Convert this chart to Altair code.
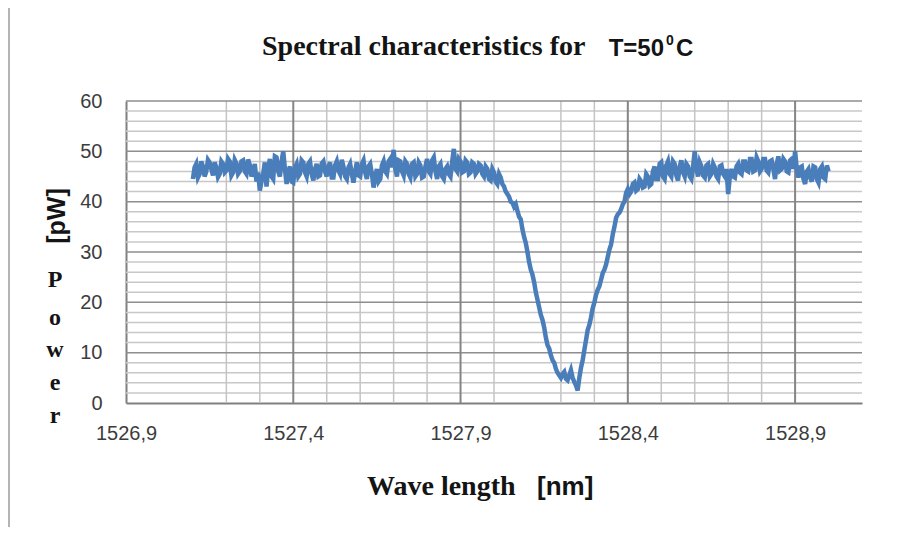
import altair as alt
import pandas as pd

# ---- data ----
WAVE_START = 1527.100  # nm, first sample
WAVE_STEP = 0.005      # nm, sampling step
power_pw = [
    44.5, 46.8, 47.5, 44.8, 45.5, 48.0, 47.0, 45.0, 46.0, 48.3,
    47.8, 46.5, 45.2, 47.8, 46.8, 44.9, 45.5, 48.0, 47.5, 45.8,
    46.2, 48.5, 48.0, 45.2, 45.8, 48.3, 47.6, 45.5, 46.0, 48.0,
    48.2, 46.0, 45.5, 48.4, 47.3, 45.0, 46.0, 47.5, 44.0, 45.8,
    42.2, 44.0, 45.5, 47.8, 43.0, 46.5, 48.5, 45.0, 44.5, 49.0,
    48.8, 46.0, 45.0, 48.0, 50.0, 46.5, 43.5, 46.0, 47.0, 44.0,
    43.8, 46.8, 47.5, 45.0, 45.5, 48.2, 47.8, 45.8, 45.0, 47.5,
    48.0, 45.5, 44.2, 46.5, 47.5, 45.0, 45.2, 47.6, 48.0, 46.0,
    45.0, 47.0, 47.8, 44.8, 44.8, 47.2, 48.0, 46.2, 45.5, 48.3,
    47.0, 45.0, 44.5, 46.8, 47.5, 45.5, 43.8, 46.0, 47.8, 45.2,
    45.0, 47.5, 48.2, 45.8, 44.5, 47.0, 47.5, 45.5, 42.8, 45.0,
    46.5, 44.0, 44.5, 47.2, 48.0, 46.0, 45.5, 48.0, 48.5, 46.8,
    50.3, 46.5, 45.0, 48.2, 48.0, 46.0, 45.2, 48.0, 47.5, 45.5,
    44.8, 47.5, 47.8, 45.0, 45.5, 47.8, 47.2, 44.8, 45.0, 47.0,
    48.5, 46.0, 45.5, 48.2, 48.8, 46.0, 44.5, 47.0, 47.5, 45.0,
    44.5, 46.5, 47.0, 45.5, 45.0, 48.0, 50.5, 46.5, 46.0, 48.5,
    48.0, 45.8, 46.0, 48.2, 47.8, 45.5, 45.8, 47.8, 47.5, 45.5,
    46.0, 47.5, 47.2, 45.5, 45.0, 47.0, 46.5, 44.5, 44.2, 46.5,
    45.8, 44.0, 43.5, 45.5, 44.8, 43.5, 43.0, 42.0, 41.5, 41.0,
    40.0, 39.8, 39.0, 39.5, 38.2, 37.0, 36.5, 34.5, 33.0, 31.8,
    30.0, 28.0, 26.5, 25.5, 24.0, 22.0, 20.5, 19.0, 17.5, 16.5,
    15.0, 13.0, 11.5, 10.8, 9.5, 8.5, 8.0, 6.8, 6.0, 5.5,
    5.0, 5.8, 6.2, 4.8, 4.5, 5.5, 6.5, 5.0, 4.2, 3.5,
    2.5, 5.0, 7.0, 8.5, 10.5, 12.5, 14.5, 15.5, 17.0, 18.8,
    20.0, 21.5, 22.5, 23.2, 24.5, 25.8, 26.5, 27.5, 29.0, 30.5,
    31.5, 33.5, 35.0, 36.8, 37.5, 37.8, 38.5, 39.5, 40.0, 41.8,
    42.5, 41.5, 42.0, 43.5, 43.8, 42.2, 42.5, 44.5, 44.0, 42.8,
    43.0, 45.5, 45.0, 43.2, 43.5, 46.0, 47.0, 44.5, 44.5, 47.5,
    47.8, 45.0, 44.5, 47.2, 48.0, 45.5, 45.0, 48.0, 47.5, 45.2,
    44.2, 47.0, 48.2, 45.8, 45.0, 47.5, 47.0, 45.0, 44.5, 47.0,
    50.0, 46.5, 45.0, 47.8, 47.0, 45.2, 44.8, 47.2, 47.5, 45.0,
    45.5, 47.5, 46.8, 45.0, 44.5, 47.0, 47.2, 45.5, 45.0, 46.5,
    41.5, 45.0, 46.5, 45.0, 44.8, 47.0, 47.5, 45.8, 45.5, 48.0,
    48.0, 46.2, 46.0, 48.5, 48.5, 46.0, 46.2, 48.8, 48.0, 46.0,
    46.5, 48.5, 48.5, 46.2, 45.8, 48.0, 48.2, 46.5, 44.5, 47.5,
    49.0, 46.2, 46.5, 48.5, 48.0, 46.0, 45.8, 48.2, 48.5, 46.5,
    50.0, 46.5, 44.8, 46.8, 47.0, 44.5, 43.5, 46.0, 46.5, 44.8,
    44.0, 47.0, 46.8, 44.5, 43.8, 46.5, 47.0, 44.8, 44.5, 47.2,
    46.0,
]
wavelength_nm = [round(WAVE_START + i * WAVE_STEP, 4) for i in range(len(power_pw))]

x_ticks = [1526.9, 1527.4, 1527.9, 1528.4, 1528.9]
x_minor = [1527.2, 1527.3, 1527.5, 1527.6, 1527.7, 1527.8, 1528.0,
           1528.2, 1528.3, 1528.5, 1528.6, 1528.7, 1528.8]
y_ticks = [0, 10, 20, 30, 40, 50, 60]
y_major_grid = [10, 20, 30, 40, 50, 60]
y_minor_grid = [2, 4, 6, 8, 12, 14, 16, 18, 22, 24, 26, 28, 32, 34, 36, 38,
                42, 44, 46, 48, 52, 54, 56, 58]

title_main = "Spectral characteristics for"
title_temp = "T=50"
title_sup = "0"
title_unit = "C"
x_title_main = "Wave length"
x_title_unit = "[nm]"
y_title_unit = "[pW]"
y_title_letters = ["P", "o", "w", "e", "r"]

# ---- chart ----
df = pd.DataFrame({"w": wavelength_nm, "p": power_pw})
xs = alt.Scale(domain=[1526.9, 1529.1], nice=False, zero=False)
ys = alt.Scale(domain=[0, 60], nice=False)

x_axis = alt.Axis(
    values=x_ticks, title=None, grid=False, ticks=False, tickSize=0,
    labelExpr="replace(format(datum.value, '.1f'), '.', ',')",
    labelPadding=20, labelFlush=False, labelOverlap=False)
y_axis = alt.Axis(
    values=y_ticks, title=None, grid=False, ticks=False, tickSize=0,
    format="d", labelPadding=24)

W, H = 736, 302
OX, OY = 126, 101  # plot origin on the page (for decorations)

def rx(v):
    return v - OX

def ry(v):
    return v - OY

minor_h = alt.Chart(pd.DataFrame({"p": y_minor_grid})).mark_rule(
    color="#c8c8c8", strokeWidth=1.5).encode(y=alt.Y("p:Q", scale=ys, axis=y_axis))
major_h = alt.Chart(pd.DataFrame({"p": y_major_grid})).mark_rule(
    color="#8e8e8e", strokeWidth=1.5).encode(y=alt.Y("p:Q", scale=ys, axis=y_axis))
minor_v = alt.Chart(pd.DataFrame({"w": x_minor})).mark_rule(
    color="#c4c4c4", strokeWidth=1.5).encode(x=alt.X("w:Q", scale=xs, axis=x_axis))
major_v = alt.Chart(pd.DataFrame({"w": x_ticks[1:]})).mark_rule(
    color="#858585", strokeWidth=2).encode(x=alt.X("w:Q", scale=xs, axis=x_axis))

line = alt.Chart(df).mark_line(color="#4A7EBB", strokeWidth=4.5).encode(
    x=alt.X("w:Q", scale=xs, axis=x_axis),
    y=alt.Y("p:Q", scale=ys, axis=y_axis),
)

def txt(s, x, y, font, size, weight="bold", align="left", baseline="alphabetic",
        angle=0, color="#141414"):
    kw = dict(font=font, fontSize=size, fontWeight=weight, align=align,
              baseline=baseline, color=color)
    if angle:
        kw["angle"] = angle
    return alt.Chart(pd.DataFrame({"t": [s]})).mark_text(**kw).encode(
        text="t:N", x=alt.value(x), y=alt.value(y))

SERIF = "Liberation Serif"
SANS = "Liberation Sans"

texts = [
    txt(title_main, rx(262), ry(55), SERIF, 28),
    txt(title_temp, rx(664), ry(56), SANS, 24, align="right"),
    txt(title_sup, rx(670), ry(45), SANS, 14, align="center"),
    txt(title_unit, rx(676), ry(56), SANS, 24),
    txt(x_title_main, rx(367), ry(495), SERIF, 28),
    txt(x_title_unit, rx(537), ry(495), SANS, 26),
    txt(y_title_unit, rx(57), ry(216), SANS, 25, angle=270, align="center",
        baseline="middle"),
]
letter_baselines = [287, 325, 357, 390, 423]
for ch, b in zip(y_title_letters, letter_baselines):
    texts.append(txt(ch, rx(55), ry(b), SERIF, 24, align="center"))

border = alt.Chart(pd.DataFrame({"a": [0]})).mark_rule(
    color="#b4b4b4", strokeWidth=2).encode(
    x=alt.value(-117), y=alt.value(-101), y2=alt.value(434))

chart = alt.layer(minor_h, minor_v, major_h, major_v, line, border, *texts).properties(
    width=W, height=H,
    autosize=alt.AutoSizeParams(type="none"),
    padding={"left": 118, "top": 93, "right": 41, "bottom": 124},
).configure_view(stroke=None).configure_axis(
    labelFont=SANS, labelFontSize=20, labelColor="#3c3c3c",
    domainColor="#808080", domainWidth=2,
)

chart.save("out.html", embed_options={"renderer": "svg", "actions": False})
